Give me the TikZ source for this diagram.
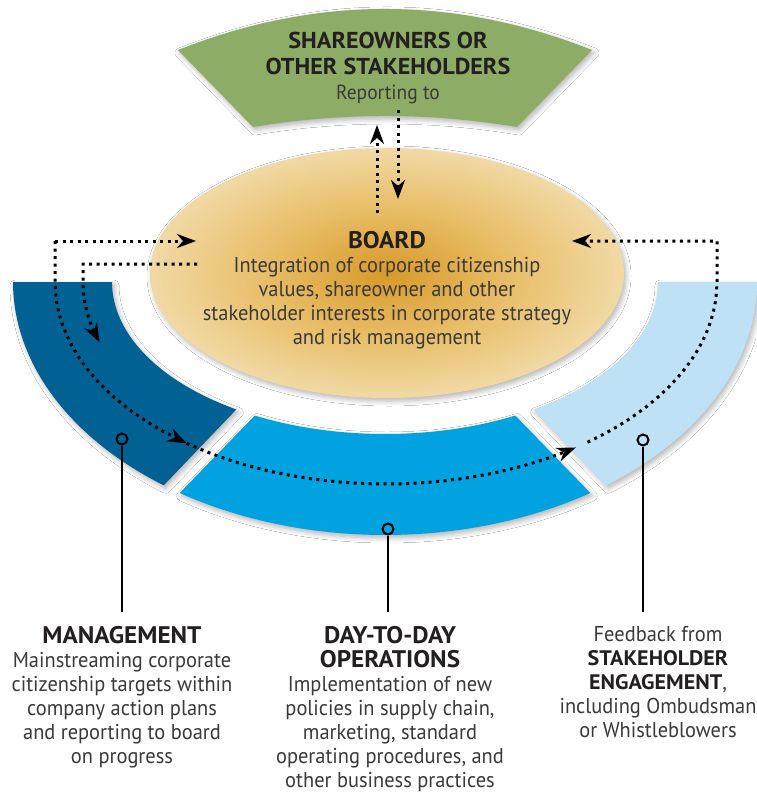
\documentclass[tikz,border=0pt]{standalone}
\usepackage{fontspec}
\setmainfont{PT Sans}[FakeStretch=0.95,BoldFeatures={FakeStretch=1.05}]
\usetikzlibrary{arrows.meta,shapes.geometric,shadows.blur}
\definecolor{sgreen}{HTML}{8DAC66}
\definecolor{dblue}{HTML}{006192}
\definecolor{mblue}{HTML}{00A2E0}
\definecolor{lblue}{HTML}{BEE1F5}
\definecolor{goldA}{HTML}{D8992A}
\definecolor{goldB}{HTML}{E7BB62}
\definecolor{goldC}{HTML}{F3DEAF}
\definecolor{goldD}{HTML}{FDF8EE}
\definecolor{headc}{HTML}{231F20}
\definecolor{bodyc}{HTML}{3A3A3A}
\pgfdeclareradialshading{boardshade}{\pgfpoint{0bp}{0bp}}{color(0bp)=(goldA); color(12bp)=(goldB); color(27bp)=(goldC); color(42bp)=(goldD); color(50bp)=(goldD)}
\newcommand\myhd[1]{{\fontsize{24}{24}\selectfont\bfseries\color{headc}#1}}
\newcommand\myhds[1]{{\fontsize{21}{24}\selectfont\bfseries\color{headc}#1}}
\newcommand\myhdg[1]{{\fontsize{23}{25.5}\selectfont\bfseries\color{headc}#1}}
\begin{document}
\begin{tikzpicture}[x=1pt,y=-1pt,
  softshadow/.style={blur shadow={shadow blur steps=6,shadow blur radius=5pt,shadow xshift=2pt,shadow yshift=-3pt,shadow opacity=30}},
  dotline/.style={line width=3pt,dash pattern=on 3pt off 4.5pt,line cap=butt,draw=black},
  tipend/.style={-{Stealth[length=19pt,width=14pt,inset=6pt]}},
  stem/.style={line width=2pt,draw=black},
  ring/.style={circle,draw=black,line width=2pt,minimum size=11pt,inner sep=0pt},
  body/.style={align=center,text=bodyc,font=\fontsize{21.5}{24}\selectfont,inner sep=0pt},
]
\useasboundingbox[fill=white] (0,0) rectangle (756,795);

% ring bands
\fill[dblue,softshadow] plot[domain=180:126.5,samples=50] ({385+372*cos(\x)},{282+253*sin(\x)})
   -- plot[domain=123:180,samples=50] ({385+273*cos(\x)},{282+152*sin(\x)}) -- cycle;
\fill[mblue,softshadow] plot[domain=123.5:56.5,samples=60] ({385+372*cos(\x)},{282+253*sin(\x)})
   -- plot[domain=61.5:118.5,samples=60] ({385+273*cos(\x)},{282+152*sin(\x)}) -- cycle;
\fill[lblue,softshadow] plot[domain=53.5:0,samples=50] ({385+372*cos(\x)},{282+253*sin(\x)})
   -- plot[domain=0:57,samples=50] ({385+273*cos(\x)},{282+152*sin(\x)}) -- cycle;

% green top shape
\fill[sgreen,softshadow] (178,50) .. controls (316,-4.7) and (454,-4.7) .. (592,50)
   -- (517,127) .. controls (429,112.3) and (341,112.3) .. (253,127) -- cycle;
\node[align=center,inner sep=0pt,anchor=north,text=bodyc,font=\fontsize{20.5}{25.5}\selectfont] (share) at (388,32)
  {\myhdg{SHAREOWNERS OR}\\\myhdg{OTHER STAKEHOLDERS}\\Reporting to};

% board
\node[ellipse,minimum width=474pt,minimum height=250pt,inner sep=0pt,shading=boardshade,softshadow] (board) at (387,273) {};
\node[body,anchor=north] (boardtxt) at (387,231)
  {\myhd{BOARD}\\Integration of corporate citizenship\\values, shareowner and other\\stakeholder interests in corporate strategy\\and risk management};

% rings and stems
\node[ring] (r1) at (122,439) {};
\node[ring] (r2) at (388,529) {};
\node[ring] (r3) at (643,440) {};
\coordinate (s1) at (122,612);
\coordinate (s2) at (388,612);
\coordinate (s3) at (643,612);
\draw[stem] (r1) -- (s1);
\draw[stem] (r2) -- (s2);
\draw[stem] (r3) -- (s3);

% dotted connectors
\coordinate (lt) at (55,241);
\coordinate (bl1) at (196,241);
\coordinate (bl2) at (197,264);
\coordinate (l2c) at (83,264);
\coordinate (rt) at (717,241);
\coordinate (br) at (572,241);
\coordinate (upS) at (377,213);
\coordinate (upE) at (377,125);
\coordinate (dnS) at (398,110);
\coordinate (dnE) at (398,199);
\draw[dotline,tipend] (upS) -- (upE);
\draw[dotline,tipend] (dnS) -- (dnE);
\draw[dotline,tipend] (lt) -- (bl1);
\draw[dotline,tipend] (lt) -- plot[smooth,domain=180:127,samples=10] ({386+331*cos(\x)},{282+202*sin(\x)});
\draw[dotline,tipend] plot[smooth,domain=127:55,samples=14] ({386+331*cos(\x)},{282+202*sin(\x)});
\draw[dotline,tipend] plot[smooth,domain=52.5:0,samples=12] ({386+331*cos(\x)},{282+202*sin(\x)}) -- (rt) -- (br);
\draw[dotline,tipend] (bl2) -- (l2c) -- plot[smooth,domain=180:161,samples=5] ({385+302*cos(\x)},{282+185*sin(\x)});

% bottom texts
\node[body,anchor=north] (mgmt) at (122,626)
  {\myhd{MANAGEMENT}\\Mainstreaming corporate\\citizenship targets within\\company action plans\\and reporting to board\\on progress};
\node[body,anchor=north] (ops) at (390,626)
  {\myhd{DAY-TO-DAY}\\\myhd{OPERATIONS}\\Implementation of new\\policies in supply chain,\\marketing, standard\\operating procedures, and\\other business practices};
\node[body,anchor=north] (stake) at (658,626)
  {Feedback from\\\myhds{STAKEHOLDER}\\\myhds{ENGAGEMENT},\\including Ombudsman\\or Whistleblowers};
\end{tikzpicture}
\end{document}
